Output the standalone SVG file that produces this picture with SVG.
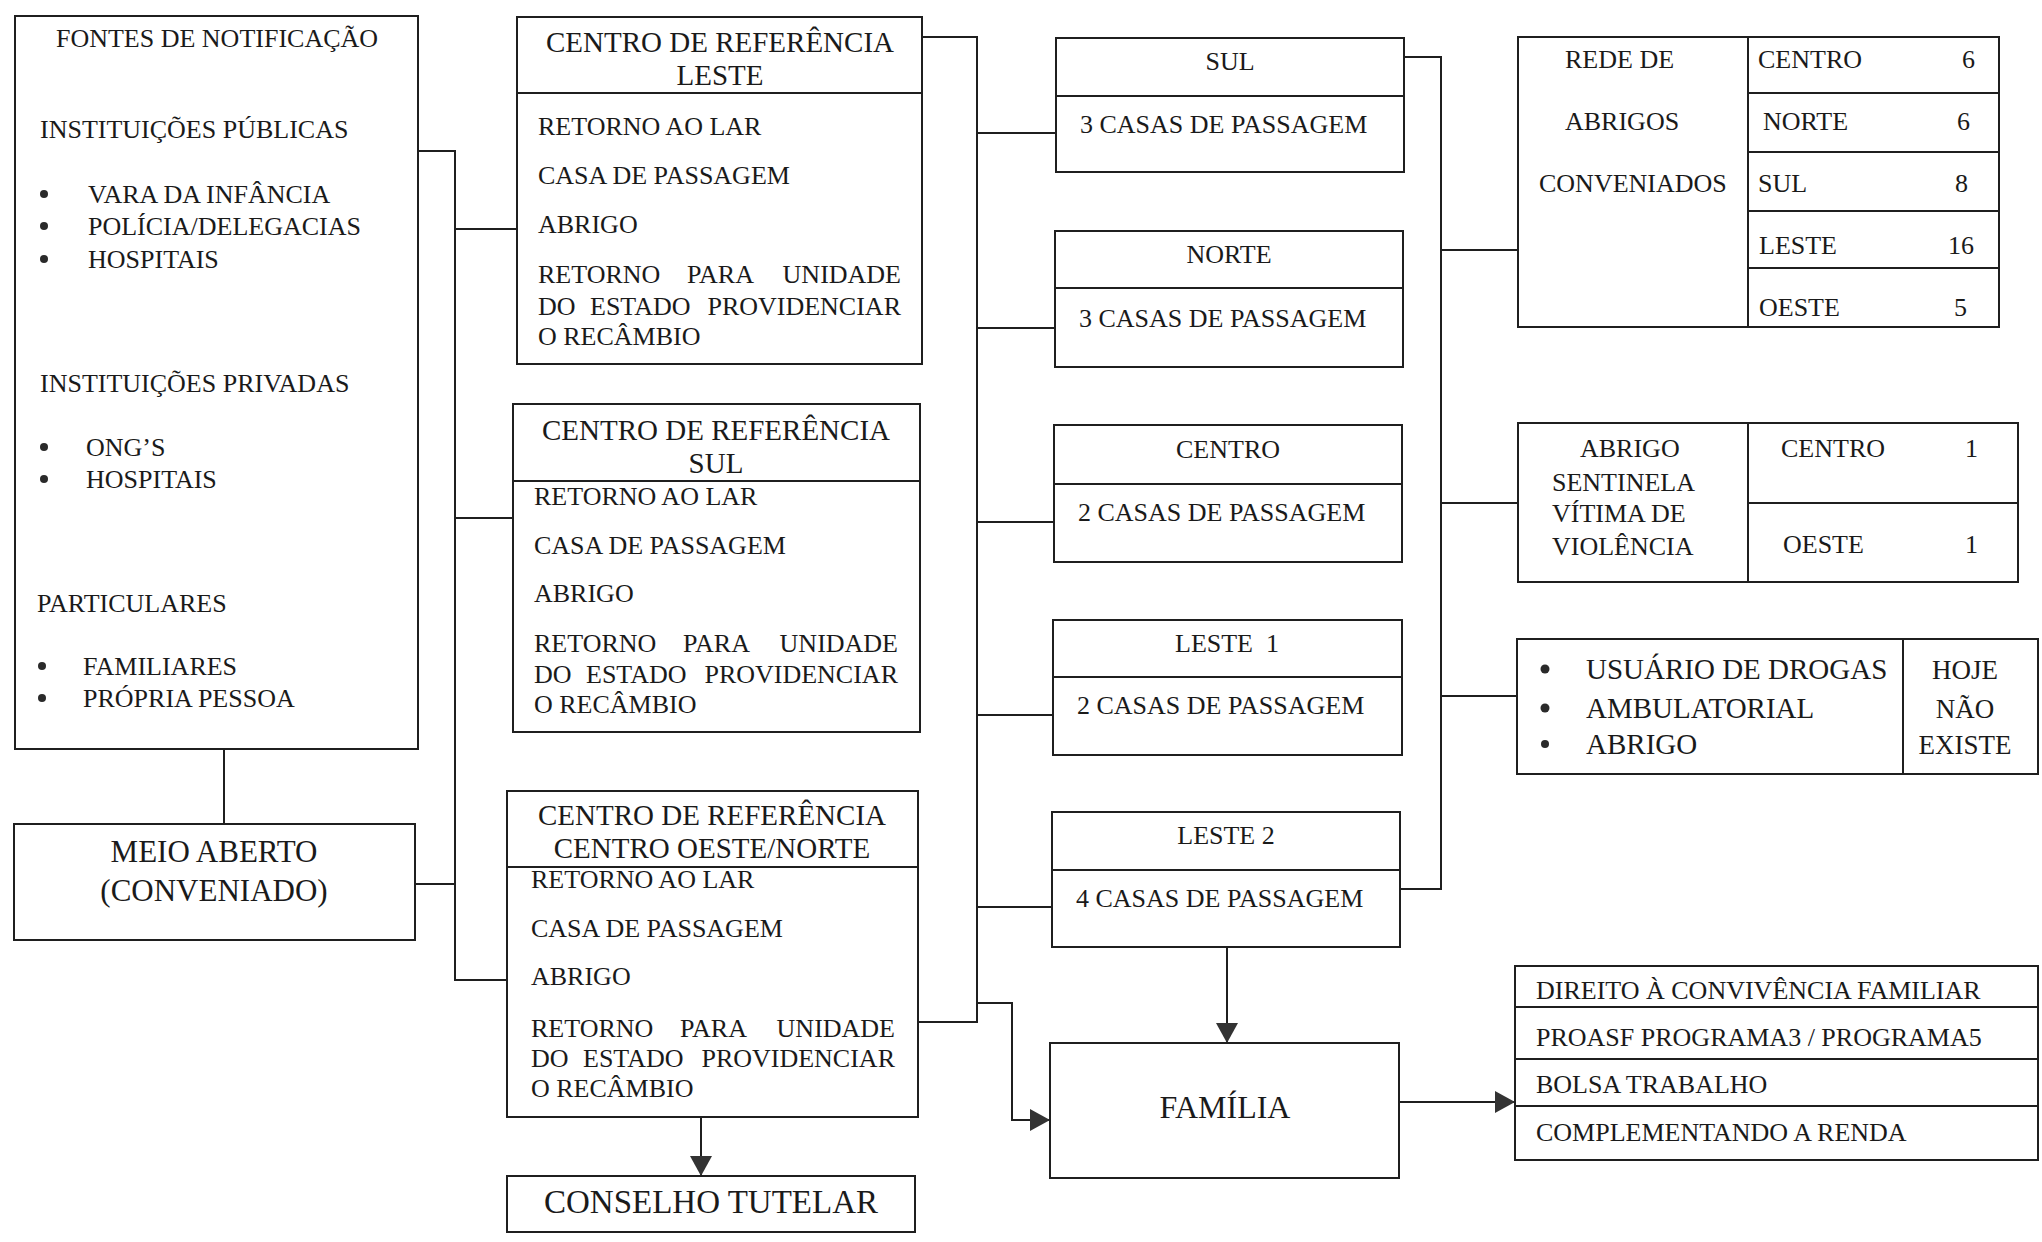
<svg xmlns="http://www.w3.org/2000/svg" width="2042" height="1242" viewBox="0 0 2042 1242">
<style>
.box{fill:#fff;stroke:#1f1f1f;stroke-width:2}
.ln{fill:none;stroke:#1f1f1f;stroke-width:2}
.t{font-family:"Liberation Serif","Times New Roman",serif;font-size:26px;fill:#1a1a1a}
.h{font-size:29px}
.b{font-size:31px}
.u{font-size:29px}
.s{font-size:27px}
.c{text-anchor:middle}
.e{text-anchor:end}
.dot{fill:#2a2a2a}
</style>
<defs>
<marker id="arr" viewBox="0 0 20 22" refX="20" refY="11" markerWidth="20" markerHeight="22" markerUnits="userSpaceOnUse" orient="auto">
<path d="M0,0 L20,11 L0,22 z" fill="#333"/>
</marker>
</defs>
<rect width="2042" height="1242" fill="#fff"/>

<g id="connectors">
<path class="ln" d="M418,151 H455 V980 H507"/>
<path class="ln" d="M455,229 H517"/>
<path class="ln" d="M455,518 H513"/>
<path class="ln" d="M415,884 H455"/>
<path class="ln" d="M224,749 V824"/>
<path class="ln" d="M922,37 H977 V1022 H918"/>
<path class="ln" d="M977,133 H1056"/>
<path class="ln" d="M977,328 H1055"/>
<path class="ln" d="M977,522 H1054"/>
<path class="ln" d="M977,715 H1053"/>
<path class="ln" d="M977,907 H1052"/>
<path class="ln" d="M977,1003 H1012 V1120 H1050" marker-end="url(#arr)"/>
<path class="ln" d="M1404,57 H1441 V889 H1400"/>
<path class="ln" d="M1441,250 H1518"/>
<path class="ln" d="M1441,503 H1518"/>
<path class="ln" d="M1441,696 H1517"/>
<path class="ln" d="M1227,947 V1043" marker-end="url(#arr)"/>
<path class="ln" d="M701,1117 V1176" marker-end="url(#arr)"/>
<path class="ln" d="M1399,1102 H1515" marker-end="url(#arr)"/>
</g>

<g id="fontes">
<rect class="box" x="15" y="16" width="403" height="733"/>
<text class="t c" x="217" y="47">FONTES DE NOTIFICAÇÃO</text>
<text class="t" x="40" y="138">INSTITUIÇÕES PÚBLICAS</text>
<circle class="dot" cx="44" cy="194" r="4"/>
<circle class="dot" cx="44" cy="226" r="4"/>
<circle class="dot" cx="44" cy="259" r="4"/>
<text class="t" x="88" y="203">VARA DA INFÂNCIA</text>
<text class="t" x="88" y="235">POLÍCIA/DELEGACIAS</text>
<text class="t" x="88" y="268">HOSPITAIS</text>
<text class="t" x="40" y="392">INSTITUIÇÕES PRIVADAS</text>
<circle class="dot" cx="44" cy="447" r="4"/>
<circle class="dot" cx="44" cy="479" r="4"/>
<text class="t" x="86" y="456">ONG’S</text>
<text class="t" x="86" y="488">HOSPITAIS</text>
<text class="t" x="37" y="612">PARTICULARES</text>
<circle class="dot" cx="42" cy="666" r="4"/>
<circle class="dot" cx="42" cy="698" r="4"/>
<text class="t" x="83" y="675">FAMILIARES</text>
<text class="t" x="83" y="707">PRÓPRIA PESSOA</text>
</g>

<g id="meio-aberto">
<rect class="box" x="14" y="824" width="401" height="116"/>
<text class="t b c" x="214" y="862">MEIO ABERTO</text>
<text class="t b c" x="214" y="901">(CONVENIADO)</text>
</g>

<g id="cr-leste">
<rect class="box" x="517" y="17" width="405" height="347"/>
<path class="ln" d="M517,93 H922"/>
<text class="t h c" x="720" y="52">CENTRO DE REFERÊNCIA</text>
<text class="t h c" x="720" y="85">LESTE</text>
<text class="t" x="538" y="135">RETORNO AO LAR</text>
<text class="t" x="538" y="184">CASA DE PASSAGEM</text>
<text class="t" x="538" y="233">ABRIGO</text>
<text class="t" y="283"><tspan x="538">RETORNO</tspan><tspan x="687">PARA</tspan></text>
<text class="t e" x="901" y="283">UNIDADE</text>
<text class="t" y="315"><tspan x="538">DO</tspan><tspan x="590">ESTADO</tspan></text>
<text class="t e" x="901" y="315">PROVIDENCIAR</text>
<text class="t" x="538" y="345">O RECÂMBIO</text>
</g>

<g id="cr-sul">
<rect class="box" x="513" y="404" width="407" height="328"/>
<path class="ln" d="M513,481 H920"/>
<text class="t h c" x="716" y="440">CENTRO DE REFERÊNCIA</text>
<text class="t h c" x="716" y="473">SUL</text>
<text class="t" x="534" y="505">RETORNO AO LAR</text>
<text class="t" x="534" y="554">CASA DE PASSAGEM</text>
<text class="t" x="534" y="602">ABRIGO</text>
<text class="t" y="652"><tspan x="534">RETORNO</tspan><tspan x="683">PARA</tspan></text>
<text class="t e" x="898" y="652">UNIDADE</text>
<text class="t" y="683"><tspan x="534">DO</tspan><tspan x="586">ESTADO</tspan></text>
<text class="t e" x="898" y="683">PROVIDENCIAR</text>
<text class="t" x="534" y="713">O RECÂMBIO</text>
</g>

<g id="cr-oeste-norte">
<rect class="box" x="507" y="791" width="411" height="326"/>
<path class="ln" d="M507,867 H918"/>
<text class="t h c" x="712" y="825">CENTRO DE REFERÊNCIA</text>
<text class="t h c" x="712" y="858">CENTRO OESTE/NORTE</text>
<text class="t" x="531" y="888">RETORNO AO LAR</text>
<text class="t" x="531" y="937">CASA DE PASSAGEM</text>
<text class="t" x="531" y="985">ABRIGO</text>
<text class="t" y="1037"><tspan x="531">RETORNO</tspan><tspan x="680">PARA</tspan></text>
<text class="t e" x="895" y="1037">UNIDADE</text>
<text class="t" y="1067"><tspan x="531">DO</tspan><tspan x="583">ESTADO</tspan></text>
<text class="t e" x="895" y="1067">PROVIDENCIAR</text>
<text class="t" x="531" y="1097">O RECÂMBIO</text>
</g>

<g id="conselho-tutelar">
<rect class="box" x="507" y="1176" width="408" height="56"/>
<text class="t c" style="font-size:33px" x="711" y="1213">CONSELHO TUTELAR</text>
</g>

<g id="sul">
<rect class="box" x="1056" y="38" width="348" height="134"/>
<path class="ln" d="M1056,96 H1404"/>
<text class="t c" x="1230" y="70">SUL</text>
<text class="t" x="1080" y="133">3 CASAS DE PASSAGEM</text>
</g>

<g id="norte">
<rect class="box" x="1055" y="231" width="348" height="136"/>
<path class="ln" d="M1055,288 H1403"/>
<text class="t c" x="1229" y="263">NORTE</text>
<text class="t" x="1079" y="327">3 CASAS DE PASSAGEM</text>
</g>

<g id="centro">
<rect class="box" x="1054" y="425" width="348" height="137"/>
<path class="ln" d="M1054,484 H1402"/>
<text class="t c" x="1228" y="458">CENTRO</text>
<text class="t" x="1078" y="521">2 CASAS DE PASSAGEM</text>
</g>

<g id="leste-1">
<rect class="box" x="1053" y="620" width="349" height="135"/>
<path class="ln" d="M1053,677 H1402"/>
<text class="t c" x="1227" y="652" xml:space="preserve">LESTE  1</text>
<text class="t" x="1077" y="714">2 CASAS DE PASSAGEM</text>
</g>

<g id="leste-2">
<rect class="box" x="1052" y="812" width="348" height="135"/>
<path class="ln" d="M1052,870 H1400"/>
<text class="t c" x="1226" y="844">LESTE 2</text>
<text class="t" x="1076" y="907">4 CASAS DE PASSAGEM</text>
</g>

<g id="familia">
<rect class="box" x="1050" y="1043" width="349" height="135"/>
<text class="t c" style="font-size:32px" x="1225" y="1118">FAMÍLIA</text>
</g>

<g id="rede-abrigos">
<rect class="box" x="1518" y="37" width="481" height="290"/>
<path class="ln" d="M1748,37 V327 M1748,93 H1999 M1748,152 H1999 M1748,211 H1999 M1748,268 H1999"/>
<text class="t" x="1565" y="68">REDE DE</text>
<text class="t" x="1565" y="130">ABRIGOS</text>
<text class="t" x="1539" y="192">CONVENIADOS</text>
<text class="t" x="1758" y="68">CENTRO</text>
<text class="t" x="1763" y="130">NORTE</text>
<text class="t" x="1758" y="192">SUL</text>
<text class="t" x="1759" y="254">LESTE</text>
<text class="t" x="1759" y="316">OESTE</text>
<text class="t e" x="1975" y="68">6</text>
<text class="t e" x="1970" y="130">6</text>
<text class="t e" x="1968" y="192">8</text>
<text class="t e" x="1974" y="254">16</text>
<text class="t e" x="1967" y="316">5</text>
</g>

<g id="abrigo-sentinela">
<rect class="box" x="1518" y="423" width="500" height="159"/>
<path class="ln" d="M1748,423 V582 M1748,503 H2018"/>
<text class="t" x="1580" y="457">ABRIGO</text>
<text class="t" x="1552" y="491">SENTINELA</text>
<text class="t" x="1552" y="522">VÍTIMA DE</text>
<text class="t" x="1552" y="555">VIOLÊNCIA</text>
<text class="t" x="1781" y="457">CENTRO</text>
<text class="t e" x="1978" y="457">1</text>
<text class="t" x="1783" y="553">OESTE</text>
<text class="t e" x="1978" y="553">1</text>
</g>

<g id="usuario-drogas">
<rect class="box" x="1517" y="639" width="521" height="135"/>
<path class="ln" d="M1903,639 V774"/>
<circle class="dot" cx="1545" cy="669" r="4.5"/>
<circle class="dot" cx="1545" cy="708" r="4.5"/>
<circle class="dot" cx="1545" cy="744" r="4"/>
<text class="t u" x="1586" y="679">USUÁRIO DE DROGAS</text>
<text class="t u" x="1586" y="718">AMBULATORIAL</text>
<text class="t u" x="1586" y="754">ABRIGO</text>
<text class="t s c" x="1965" y="679">HOJE</text>
<text class="t s c" x="1965" y="718">NÃO</text>
<text class="t s c" x="1965" y="754">EXISTE</text>
</g>

<g id="programas">
<rect class="box" x="1515" y="966" width="523" height="194"/>
<path class="ln" d="M1515,1007 H2038 M1515,1059 H2038 M1515,1106 H2038"/>
<text class="t" x="1536" y="999">DIREITO À CONVIVÊNCIA FAMILIAR</text>
<text class="t" x="1536" y="1046">PROASF PROGRAMA3 / PROGRAMA5</text>
<text class="t" x="1536" y="1093">BOLSA TRABALHO</text>
<text class="t" x="1536" y="1141">COMPLEMENTANDO A RENDA</text>
</g>
</svg>
